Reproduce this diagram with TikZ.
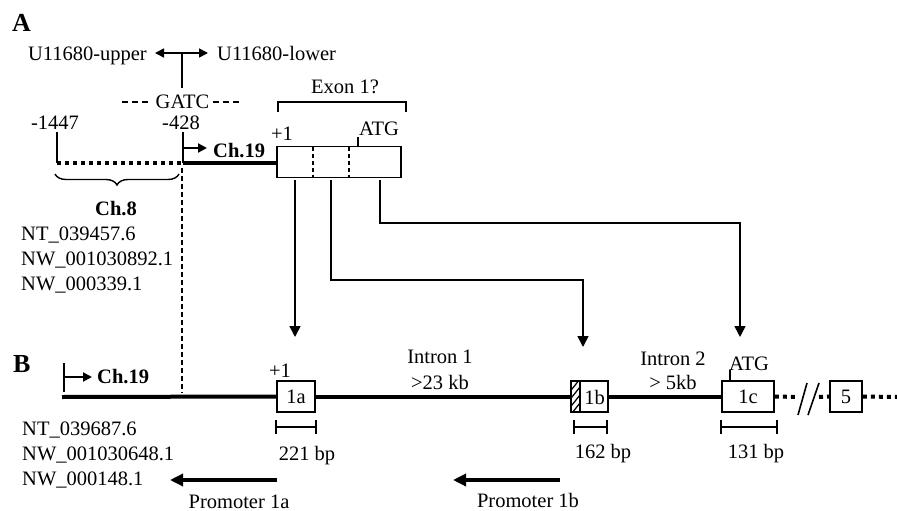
\documentclass[tikz,border=0pt]{standalone}
\usepackage{fontspec}
\setmainfont{Liberation Serif}
\usetikzlibrary{arrows.meta,decorations.pathreplacing}
\begin{document}
\begin{tikzpicture}[x=1pt,y=-1pt,
  lbl/.style={inner sep=0pt, font=\fontsize{20.5}{24}\selectfont},
  blbl/.style={inner sep=0pt, font=\fontsize{20.5}{24}\selectfont\bfseries},
  panel/.style={inner sep=0pt, font=\fontsize{26}{30}\selectfont\bfseries},
  exonbox/.style={draw, line width=1.8pt, fill=white, inner sep=0pt, minimum height=31pt, font=\fontsize{20.5}{24}\selectfont},
  chrom/.style={line width=4pt},
  dotchrom/.style={line width=4pt, dash pattern=on 4pt off 4pt},
  conn/.style={line width=1.6pt, -{Triangle[length=11pt,width=11pt]}},
  prom/.style={line width=4pt, -{Triangle[length=13pt,width=12pt]}},
  thin/.style={line width=1.4pt},
  startarr/.style={line width=2pt, -{Triangle[length=9pt,width=9pt]}},
  dblarr/.style={line width=1.6pt, {Triangle[length=9pt,width=9pt]}-{Triangle[length=9pt,width=9pt]}},
  gdash/.style={line width=1.2pt, dash pattern=on 6pt off 4pt},
  vdash/.style={line width=1.3pt, dash pattern=on 5pt off 3pt},
]
\useasboundingbox (0,0) rectangle (897,511);

% ---------------- Panel A ----------------
\node[panel, anchor=base west] (pA) at (12,32) {A};
\node[lbl, anchor=base east] (up) at (147,60) {U11680-upper};
\node[lbl, anchor=base west] (lo) at (217,60) {U11680-lower};
\coordinate (dl) at (155,53);
\coordinate (dr) at (208,53);
\coordinate (dm) at (182,53);
\coordinate (dbot) at (182,88);
\draw[dblarr] (dl) -- (dr);
\draw[thin] (dm) -- (dbot);
\node[lbl, anchor=base] (gatc) at (182.5,108) {GATC};
\coordinate (gl1) at (122,102); \coordinate (gl2) at (150,102);
\coordinate (gr1) at (213,102); \coordinate (gr2) at (240,102);
\draw[gdash] (gl1) -- (gl2);
\draw[gdash] (gr1) -- (gr2);

\node[lbl, anchor=base] (exlbl) at (345,93) {Exon 1?};
\draw[thin] (278,112) -- (278,102) -- (406,102) -- (406,112);

\node[lbl, anchor=base] (n1447) at (55,129) {-1447};
\node[lbl, anchor=base] (n428) at (181,129) {-428};
\node[lbl, anchor=base] (p1A) at (282,140) {+1};
\node[lbl, anchor=base] (atgA) at (379,135) {ATG};

\node[exonbox, minimum width=124pt] (exA) at (339,162) {};
\draw[thin, dash pattern=on 4pt off 3pt] (313,147) -- (313,177);
\draw[thin, dash pattern=on 4pt off 3pt] (349,147) -- (349,177);
\draw[thin] (358,137) -- (358,147);

\coordinate (m1447) at (57,163);
\coordinate (m428) at (183,163);
\draw[line width=2.6pt] (57,132) -- (m1447);
\draw[dotchrom] (m1447) -- (m428);
\draw[chrom] (m428) -- (exA.west |- m428);
\draw[line width=2pt] (183,132) -- (m428);
\draw[startarr] (183,148) -- (207,148);
\node[blbl, anchor=base west] (ch19A) at (213,157) {Ch.19};

\draw[decorate, decoration={brace, mirror, amplitude=11pt}, thin] (55,174) -- (179,174);
\node[blbl, anchor=base] (ch8) at (116,215) {Ch.8};
\node[lbl, anchor=base west] (a1) at (21,240) {NT\_039457.6};
\node[lbl, anchor=base west] (a2) at (21,265) {NW\_001030892.1};
\node[lbl, anchor=base west] (a3) at (21,290) {NW\_000339.1};

\draw[vdash] (182,168) -- (182,393);

% connectors
\coordinate (s1) at (295,180); \coordinate (t1) at (295,337);
\coordinate (s2) at (331,180); \coordinate (t2) at (583,347);
\coordinate (s3) at (380,180); \coordinate (t3) at (740,337);
\draw[conn] (s1) -- (t1);
\draw[conn] (s2) -- (331,280) -- (583,280) -- (t2);
\draw[conn] (s3) -- (380,223) -- (740,223) -- (t3);

% ---------------- Panel B ----------------
\node[panel, anchor=base west] (pB) at (13,372) {B};

\node[exonbox, minimum width=38pt] (b1a) at (296,396.5) {1a};
\node[exonbox, minimum width=37pt] (b1b) at (589.5,396.5) {};
\node[exonbox, minimum width=52pt] (b1c) at (748,396.5) {1c};
\node[exonbox, minimum width=32pt] (b5) at (846,396.5) {5};

\begin{scope}
  \clip (571,381) rectangle (580,412);
  \foreach \yy in {386,394,402,410,418,426}
    \draw[line width=1.2pt] (568,\yy) -- (584,\yy-20);
\end{scope}
\draw[line width=1.8pt] (580,381) -- (580,412);
\node[lbl] (l1b) at (594.5,397) {1b};

\coordinate (bstart) at (62,397);
\draw[chrom] (bstart) -- (b1a.west);
\draw[chrom] (b1a.east) -- (b1b.west);
\draw[chrom] (b1b.east) -- (b1c.west);
\coordinate (brk1) at (798,397);
\coordinate (brk2) at (819,397);
\coordinate (bend) at (897,397);
\draw[dotchrom] (b1c.east) -- (brk1);
\draw[dotchrom] (brk2) -- (b5.west);
\draw[dotchrom] (b5.east) -- (bend);
\draw[line width=1.6pt] (798,415) -- (807,383);
\draw[line width=1.6pt] (808,415) -- (819,383);

\draw[line width=2pt] (64,363) -- (64,392);
\draw[startarr] (64,377) -- (92,377);
\node[blbl, anchor=base west] (ch19B) at (97,383) {Ch.19};

\node[lbl, anchor=base] (p1B) at (280,377) {+1};
\node[lbl, anchor=base] (in1) at (440,363) {Intron 1};
\node[lbl, anchor=base] (in1s) at (440,389) {>23 kb};
\node[lbl, anchor=base] (in2) at (673,365) {Intron 2};
\node[lbl, anchor=base] (in2s) at (673,389) {> 5kb};
\node[lbl, anchor=base] (atgB) at (749,370) {ATG};
\draw[thin] (730,370) -- (730,381);

% scale bars
\draw[thin] (276,420) -- (276,434) (276,427) -- (316,427) (316,420) -- (316,434);
\draw[thin] (574,420) -- (574,434) (574,427) -- (607,427) (607,420) -- (607,434);
\draw[thin] (721,420) -- (721,434) (721,427) -- (777,427) (777,420) -- (777,434);
\node[lbl, anchor=base] (bp1) at (307,460) {221 bp};
\node[lbl, anchor=base] (bp2) at (603,458) {162 bp};
\node[lbl, anchor=base] (bp3) at (756,458) {131 bp};

\node[lbl, anchor=base west] (b1) at (22,435) {NT\_039687.6};
\node[lbl, anchor=base west] (b2) at (22,460) {NW\_001030648.1};
\node[lbl, anchor=base west] (b3) at (22,485) {NW\_000148.1};

\coordinate (pa1) at (277,480); \coordinate (pa2) at (170,480);
\coordinate (pb1) at (560,480); \coordinate (pb2) at (453,480);
\draw[prom] (pa1) -- (pa2);
\draw[prom] (pb1) -- (pb2);
\node[lbl, anchor=base] (pr1) at (239,508) {Promoter 1a};
\node[lbl, anchor=base] (pr2) at (528,507) {Promoter 1b};
\end{tikzpicture}
\end{document}
